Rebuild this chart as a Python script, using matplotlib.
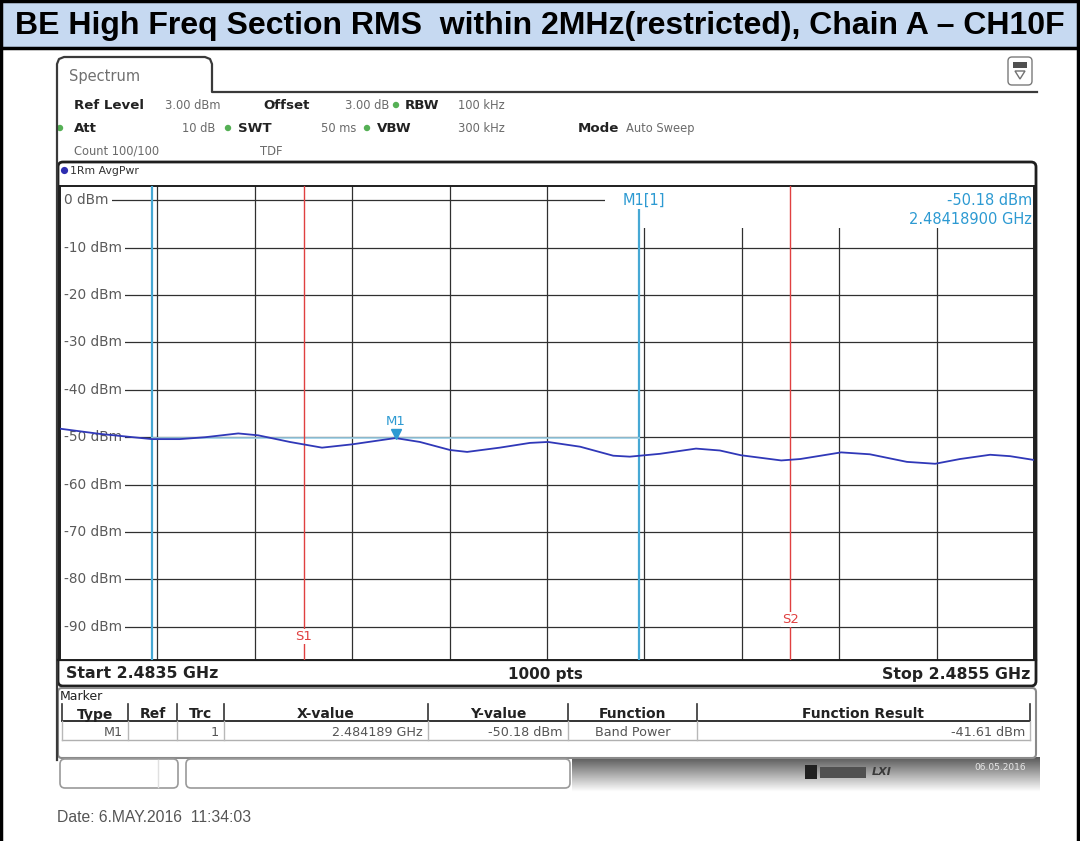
import matplotlib
matplotlib.use("Agg")
import matplotlib.pyplot as plt
import matplotlib.patches as mpatches
import matplotlib.transforms as mtransforms
import numpy as np

# --------------------------------------------------------------------------- #
# data
# --------------------------------------------------------------------------- #
f_start, f_stop = 2.4835, 2.4855          # GHz
ref_level, y_bottom = 3.0, -97.0          # dBm
grid_dbm = [0, -10, -20, -30, -40, -50, -60, -70, -80, -90]
grid_freq = [2.4837, 2.4839, 2.4841, 2.4843, 2.4845, 2.4847, 2.4849, 2.4851, 2.4853]

trace_freq = [2.483500, 2.483582, 2.483689, 2.483746, 2.483798, 2.483866, 2.483907,
              2.483972, 2.484038, 2.484100, 2.484167, 2.484189, 2.484239, 2.484301,
              2.484336, 2.484403, 2.484465, 2.484502, 2.484568, 2.484636, 2.484670,
              2.484732, 2.484806, 2.484855, 2.484898, 2.484981, 2.485020, 2.485104,
              2.485163, 2.485239, 2.485297, 2.485348, 2.485410, 2.485451, 2.485500]
trace_dbm = [-48.2, -49.3, -50.4, -50.4, -50.0, -49.2, -49.6,
             -51.0, -52.2, -51.5, -50.5, -50.18, -51.0, -52.7,
             -53.1, -52.2, -51.2, -51.0, -52.0, -53.9, -54.1,
             -53.5, -52.4, -52.8, -53.8, -54.9, -54.6, -53.2,
             -53.6, -55.2, -55.6, -54.6, -53.7, -54.0, -54.8]

m1_freq, m1_dbm = 2.484189, -50.18
band_edges = [2.483689, 2.484689]        # band power span around M1
s_lines = [2.484000, 2.485000]
s_labels = ["S1", "S2"]
s_label_dbm = [-92.0, -88.5]

table_cols = ["Type", "Ref", "Trc", "X-value", "Y-value", "Function", "Function Result"]
table_row = ["M1", "", "1", "2.484189 GHz", "-50.18 dBm", "Band Power", "-41.61 dBm"]

title = "BE High Freq Section RMS  within 2MHz(restricted), Chain A \u2013 CH10F"

W, H = 1080, 841
TRACE = "#3038b8"
CYAN = "#46a8d4"
RED = "#e04040"
GRID = "#303030"
LBL = "#5a5a5a"
MK = "#2d9ad2"

fig = plt.figure(figsize=(W / 100, H / 100), dpi=100)
fig.patch.set_facecolor("white")

# background axes in pixel coordinates (y down)
bg = fig.add_axes([0, 0, 1, 1])
bg.set_xlim(0, W); bg.set_ylim(H, 0); bg.axis("off")

# title band
bg.add_patch(mpatches.Rectangle((2, 2), W - 4, 45, fc="#c6d9f1", ec="none"))
bg.plot([1, 1], [0, H], color="black", lw=2.5)
bg.plot([W - 2, W - 2], [0, H], color="black", lw=2.5)
bg.plot([0, W], [1, 1], color="black", lw=2.5)
bg.plot([0, W], [47.5, 47.5], color="black", lw=2.5)
bg.text(W / 2, 26, title, ha="center", va="center", fontsize=23,
        fontweight="bold", family="Liberation Sans", color="black")

# spectrum tab + panel outline
tab = [(57, 760), (57, 64), (59, 59), (64, 57), (205, 57), (210, 59), (212, 64),
       (212, 92), (1037, 92)]
bg.plot(*zip(*tab), color="#3a3a3a", lw=1.6)
bg.text(69, 76, "Spectrum", fontsize=10.5, color="#707070", va="center")
bg.add_patch(mpatches.FancyBboxPatch((1008, 57), 24, 28, boxstyle="round,pad=0,rounding_size=4",
                                     fc="white", ec="#7a7a7a", lw=1))
bg.add_patch(mpatches.Rectangle((1013, 62), 14, 6, fc="#505050", ec="none"))
bg.add_patch(mpatches.Polygon([(1015, 71), (1025, 71), (1020, 79)], closed=True,
                              fc="none", ec="#707070", lw=1))

# setup header lines
def bold(x, y, s):
    bg.text(x, y, s, fontweight="bold", color="#222222", fontsize=9.6, va="center")
def val(x, y, s, ha="left"):
    bg.text(x, y, s, color="#6a6a6a", ha=ha, fontsize=8.3, va="center")
def dot(x, y):
    bg.add_patch(mpatches.Circle((x, y), 3.2, fc="#55b055", ec="none"))

bold(74, 105, "Ref Level"); val(165, 105, "3.00 dBm")
bold(263, 105, "Offset"); val(345, 105, "3.00 dB")
dot(396, 105); bold(405, 105, "RBW"); val(458, 105, "100 kHz")
dot(60, 128); bold(74, 128, "Att"); val(215, 128, "10 dB", ha="right")
dot(228, 128); bold(238, 128, "SWT"); val(356, 128, "50 ms", ha="right")
dot(367, 128); bold(377, 128, "VBW"); val(458, 128, "300 kHz")
bold(578, 128, "Mode"); val(626, 128, "Auto Sweep")
val(74, 151, "Count 100/100"); val(260, 151, "TDF")

# graph frame
bg.add_patch(mpatches.FancyBboxPatch((58, 162), 978, 524, boxstyle="round,pad=0,rounding_size=5",
                                     fc="white", ec="#1e1e1e", lw=2))
bg.add_patch(mpatches.Circle((64.5, 170.5), 3.6, fc="#2d2db0", ec="none"))
bg.text(70, 170.5, "1Rm AvgPwr", fontsize=7.8, va="center", color="#333333")
bg.plot([58, 1036], [660, 660], color="#1e1e1e", lw=1.6)
bg.text(66, 674, "Start 2.4835 GHz", fontsize=11.3, fontweight="bold", va="center", color="#222222")
bg.text(545, 674, "1000 pts", fontsize=11, fontweight="bold", va="center", ha="center", color="#222222")
bg.text(1030, 674, "Stop 2.4855 GHz", fontsize=11.3, fontweight="bold", va="center", ha="right", color="#222222")

# marker table
bg.add_patch(mpatches.FancyBboxPatch((58, 688), 978, 70, boxstyle="round,pad=0,rounding_size=4",
                                     fc="white", ec="#8a8a8a", lw=1.5))
bg.text(60, 696, "Marker", fontsize=9, va="center", color="#222222")
col_edges = [62, 128, 177, 224, 428, 568, 697, 1030]
row_top, row_mid, row_bot = 704, 721, 740
bg.plot([62, 1030], [row_mid, row_mid], color="#333333", lw=1.4)
bg.plot([62, 1030], [row_bot, row_bot], color="#b0b0b0", lw=1)
for xe in col_edges:
    bg.plot([xe, xe], [row_top, row_mid], color="#333333", lw=1.2)
    bg.plot([xe, xe], [row_mid, row_bot], color="#b8b8b8", lw=1)
for i, name in enumerate(table_cols):
    xc = (col_edges[i] + col_edges[i + 1]) / 2
    bg.text(xc, 713, name, fontsize=10, fontweight="bold", ha="center", va="center_baseline",
            color="#222222")
for i, s in enumerate(table_row):
    if not s:
        continue
    if table_cols[i] == "Function":
        bg.text((col_edges[i] + col_edges[i + 1]) / 2, 731, s, fontsize=9.2, ha="center",
                va="center_baseline", color="#555555")
    else:
        bg.text(col_edges[i + 1] - 5, 731, s, fontsize=9.2, ha="right", va="center_baseline",
                color="#555555")

# status bar
bg.add_patch(mpatches.FancyBboxPatch((60, 759), 118, 29, boxstyle="round,pad=0,rounding_size=5",
                                     fc="white", ec="#9a9a9a", lw=1.2))
bg.plot([158, 158], [760, 787], color="#e0e0e0", lw=1)
bg.add_patch(mpatches.FancyBboxPatch((186, 759), 384, 29, boxstyle="round,pad=0,rounding_size=5",
                                     fc="white", ec="#9a9a9a", lw=1.2))
grad = np.linspace(0.35, 1.0, 40)[:, None] * np.ones((1, 2))
bg.imshow(grad, cmap="gray", vmin=0, vmax=1, extent=[572, 1040, 792, 757], aspect="auto", zorder=0.5)
bg.set_xlim(0, W); bg.set_ylim(H, 0)
bg.add_patch(mpatches.Rectangle((805, 765), 12, 14, fc="#202020", ec="none"))
bg.add_patch(mpatches.Rectangle((820, 767), 46, 11, fc="#505050", ec="none"))
bg.text(872, 772, "LXI", fontsize=8, fontweight="bold", style="italic", color="#3a3a3a", va="center")
bg.text(1000, 768, "06.05.2016", fontsize=6.5, color="#e8e8e8", va="center", ha="center")

bg.text(57, 818, "Date: 6.MAY.2016  11:34:03", fontsize=11.3, family="Liberation Sans",
        color="#555555", va="center")

# --------------------------------------------------------------------------- #
# spectrum plot
# --------------------------------------------------------------------------- #
ax = fig.add_axes([60 / W, (H - 660) / H, 974 / W, (660 - 186) / H])
ax.set_xlim(f_start, f_stop)
ax.set_ylim(y_bottom, ref_level)
ax.set_xticks([]); ax.set_yticks([])
for sp in ax.spines.values():
    sp.set_color("#1e1e1e"); sp.set_linewidth(1.4)

for g in grid_dbm:
    ax.axhline(g, color=GRID, lw=0.9, zorder=1)
for g in grid_freq:
    ax.axvline(g, color=GRID, lw=0.9, zorder=1)

# white box behind the marker readout
ax.add_patch(mpatches.Rectangle((2.48462, -5.9), f_stop - 2.48462, ref_level + 5.9,
                                fc="white", ec="none", zorder=2))

for g in grid_dbm:
    ax.text(f_start + 0.0000085, g, f"{g} dBm", fontsize=9.8, color=LBL, va="center", ha="left",
            zorder=3, bbox=dict(fc="white", ec="none", pad=2.2))

# band power span, marker level line
ax.axvline(band_edges[0], color=CYAN, lw=1.6, zorder=4)
ax.axvline(band_edges[1], color=CYAN, lw=1.6, ymax=(-1.7 - y_bottom) / (ref_level - y_bottom), zorder=4)
ax.plot(band_edges, [m1_dbm, m1_dbm], color="#9fd3ea", lw=1.2, zorder=4)

# S1 / S2 limit lines
for fx, lab, ly in zip(s_lines, s_labels, s_label_dbm):
    ax.axvline(fx, color=RED, lw=1.0, zorder=4)
    ax.text(fx, ly, lab, fontsize=9.5, color=RED, ha="center", va="center", zorder=5,
            bbox=dict(fc="white", ec="none", pad=0.8))

# trace
ax.plot(trace_freq, trace_dbm, color=TRACE, lw=1.3, zorder=6)

# marker M1
tri = mtransforms.offset_copy(ax.transData, fig=fig, x=0, y=4, units="dots")
ax.plot([m1_freq], [m1_dbm], marker="v", ms=6.5, color=MK, transform=tri, zorder=7)
lab = mtransforms.offset_copy(ax.transData, fig=fig, x=0, y=17, units="dots")
ax.text(m1_freq, m1_dbm, "M1", fontsize=9.5, color=MK, ha="center", va="center",
        transform=lab, zorder=7)

# marker readout
ax.text(2.484655, 0, "M1[1]", fontsize=10.5, color=MK, ha="left", va="center", zorder=5,
        bbox=dict(fc="white", ec="none", pad=1))
ax.text(f_stop - 0.000004, 0, f"{m1_dbm:.2f} dBm", fontsize=10.5, color=MK, ha="right",
        va="center", zorder=5)
ax.text(f_stop - 0.000004, -4.0, f"{m1_freq:.8f} GHz", fontsize=10.5, color=MK, ha="right",
        va="center", zorder=5)

fig.savefig("out.png", dpi=100)
